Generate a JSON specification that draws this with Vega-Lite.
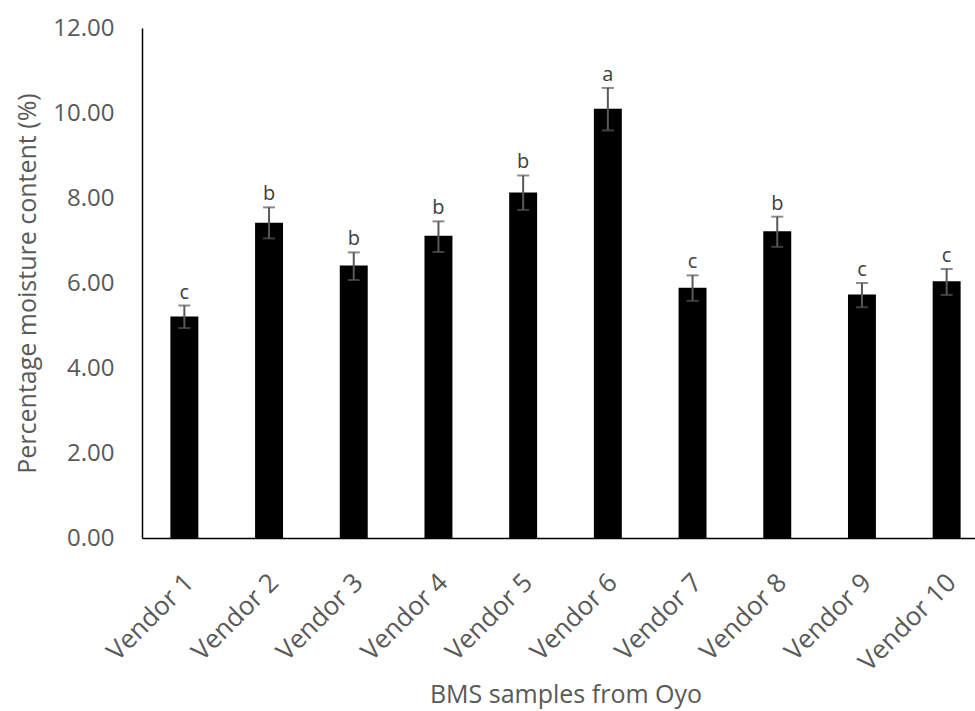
{
  "$schema": "https://vega.github.io/schema/vega-lite/v6.json",
  "width": 833,
  "height": 510,
  "autosize": {"type": "none"},
  "padding": {"left": 142, "top": 28, "right": 0, "bottom": 173},
  "background": "white",
  "config": {
    "view": {"stroke": null},
    "font": "Open Sans",
    "axis": {"labelFont": "Open Sans", "titleFont": "Open Sans", "labelColor": "#595959", "titleColor": "#595959", "titleFontWeight": "normal", "domainColor": "#000000", "domainWidth": 1.5, "grid": false, "ticks": false}
  },
  "data": {
    "values": [
      {"vendor": "Vendor 1", "moisture": 5.21, "lo": 4.94, "hi": 5.47, "group": "c"},
      {"vendor": "Vendor 2", "moisture": 7.42, "lo": 7.05, "hi": 7.78, "group": "b"},
      {"vendor": "Vendor 3", "moisture": 6.41, "lo": 6.07, "hi": 6.72, "group": "b"},
      {"vendor": "Vendor 4", "moisture": 7.11, "lo": 6.73, "hi": 7.45, "group": "b"},
      {"vendor": "Vendor 5", "moisture": 8.13, "lo": 7.72, "hi": 8.53, "group": "b"},
      {"vendor": "Vendor 6", "moisture": 10.1, "lo": 9.59, "hi": 10.59, "group": "a"},
      {"vendor": "Vendor 7", "moisture": 5.89, "lo": 5.58, "hi": 6.18, "group": "c"},
      {"vendor": "Vendor 8", "moisture": 7.22, "lo": 6.85, "hi": 7.56, "group": "b"},
      {"vendor": "Vendor 9", "moisture": 5.73, "lo": 5.43, "hi": 6.0, "group": "c"},
      {"vendor": "Vendor 10", "moisture": 6.04, "lo": 5.72, "hi": 6.33, "group": "c"}
    ]
  },
  "encoding": {
    "x": {
      "field": "vendor",
      "type": "nominal",
      "sort": null,
      "scale": {"range": [0, 847], "paddingInner": 0.67, "paddingOuter": 0.335},
      "axis": {"title": "BMS samples from Oyo", "labelAngle": -45, "labelFontSize": 26, "labelPadding": 31, "labelOffset": -4, "titleFontSize": 25, "titleBaseline": "alphabetic", "titleY": 164}
    }
  },
  "layer": [
    {
      "mark": {"type": "bar", "color": "#000000"},
      "encoding": {
        "y": {
          "field": "moisture",
          "type": "quantitative",
          "scale": {"domain": [0, 12], "nice": false},
          "axis": {"title": "Percentage moisture content (%)", "values": [0, 2, 4, 6, 8, 10, 12], "format": ".2f", "labelFontSize": 24, "labelPadding": 28, "titleFontSize": 25, "titlePadding": 12}
        }
      }
    },
    {
      "mark": {"type": "rule", "color": "#595959", "strokeWidth": 2},
      "encoding": {"y": {"field": "lo", "type": "quantitative"}, "y2": {"field": "hi"}}
    },
    {
      "mark": {"type": "tick", "color": "#595959", "thickness": 2, "size": 12},
      "encoding": {"y": {"field": "lo", "type": "quantitative"}}
    },
    {
      "mark": {"type": "tick", "color": "#595959", "thickness": 2, "size": 12},
      "encoding": {"y": {"field": "hi", "type": "quantitative"}}
    },
    {
      "mark": {"type": "text", "color": "#404040", "fontSize": 20, "baseline": "alphabetic", "dy": -7},
      "encoding": {"y": {"field": "hi", "type": "quantitative"}, "text": {"field": "group"}}
    }
  ]
}
